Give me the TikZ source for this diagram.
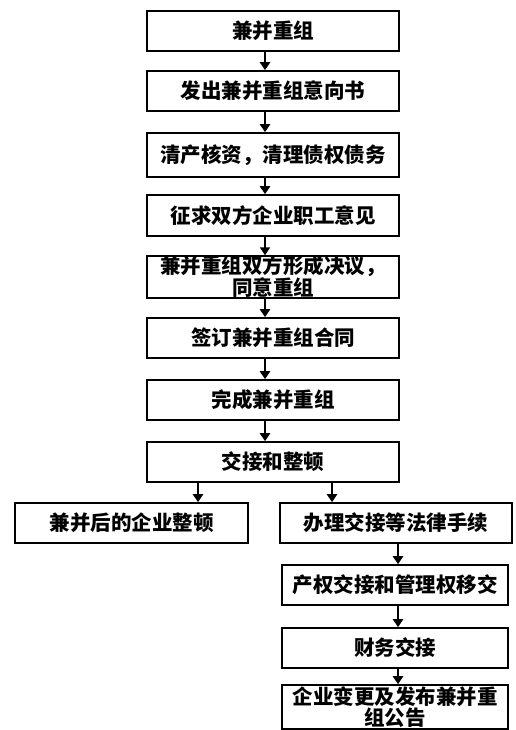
\documentclass[tikz,border=0pt]{standalone}
\usepackage{fontspec}
\newfontfamily\cjk{Noto Sans CJK SC}
\usetikzlibrary{arrows.meta}
\begin{document}
\begin{tikzpicture}
			[x=1pt,y=-1pt,
			box/.style={draw,line width=1.6pt,fill=white,inner sep=0pt,minimum width=252pt,minimum height=40pt,align=center,font=\cjk\bfseries\fontsize{20.5}{20.5}\selectfont},
			sidebox/.style={box,minimum width=232pt},
			>={Triangle[width=10pt,length=8pt]}]
			\useasboundingbox (0,0) rectangle (515,730);
			% main column
			\node[box,name=b1]at(273,31){兼并重组};
			\node[box,name=b2]at(273,91){发出兼并重组意向书};
			\node[box,name=b3,minimum height=44pt]at(273,155){清产核资，清理债权债务};
			\node[box,name=b4,minimum height=41pt]at(273,215.5){征求双方企业职工意见};
			\node[box,name=b5]at(273,277){兼并重组双方形成决议，\\同意重组};
			\node[box,name=b6]at(273,338){签订兼并重组合同};
			\node[box,name=b7]at(273,400){完成兼并重组};
			\node[box,name=b8]at(273,462){交接和整顿};
			% two branches
			\node[sidebox,name=l1,minimum width=233pt]at(131.5,523){兼并后的企业整顿};
			\node[sidebox,name=r1]at(396,523){办理交接等法律手续};
			\node[sidebox,name=r2,minimum width=226pt]at(395,585){产权交接和管理权移交};
			\node[sidebox,name=r3,minimum width=226pt]at(395,648){财务交接};
			\node[sidebox,name=r4,minimum width=226pt,minimum height=44pt]at(395,707){企业变更及发布兼并重\\组公告};
			\draw[->,line width=2.6pt] ([xshift=-8pt]b1.south)--([xshift=-8pt]b2.north);
			\draw[->,line width=2.6pt] ([xshift=-8pt]b2.south)--([xshift=-8pt]b3.north);
			\draw[->,line width=2.6pt] ([xshift=-8pt]b3.south)--([xshift=-8pt]b4.north);
			\draw[->,line width=2.6pt] ([xshift=-8pt]b4.south)--([xshift=-8pt]b5.north);
			\draw[->,line width=2.6pt] ([xshift=-8pt]b5.south)--([xshift=-8pt]b6.north);
			\draw[->,line width=2.6pt] ([xshift=-8pt]b6.south)--([xshift=-8pt]b7.north);
			\draw[->,line width=2.6pt] ([xshift=-8pt]b7.south)--([xshift=-8pt]b8.north);
			\draw[->,line width=2.6pt] ([xshift=-75pt]b8.south)--([xshift=66.5pt]l1.north);
			\draw[->,line width=2.6pt] ([xshift=59pt]b8.south)--([xshift=-64pt]r1.north);
			\draw[->,line width=2.6pt] ([xshift=2pt]r1.south)--([xshift=3pt]r2.north);
			\draw[->,line width=2.6pt] ([xshift=3pt]r2.south)--([xshift=3pt]r3.north);
			\draw[->,line width=2.6pt] ([xshift=3pt]r3.south)--([xshift=3pt]r4.north);
		\end{tikzpicture}
\end{document}
